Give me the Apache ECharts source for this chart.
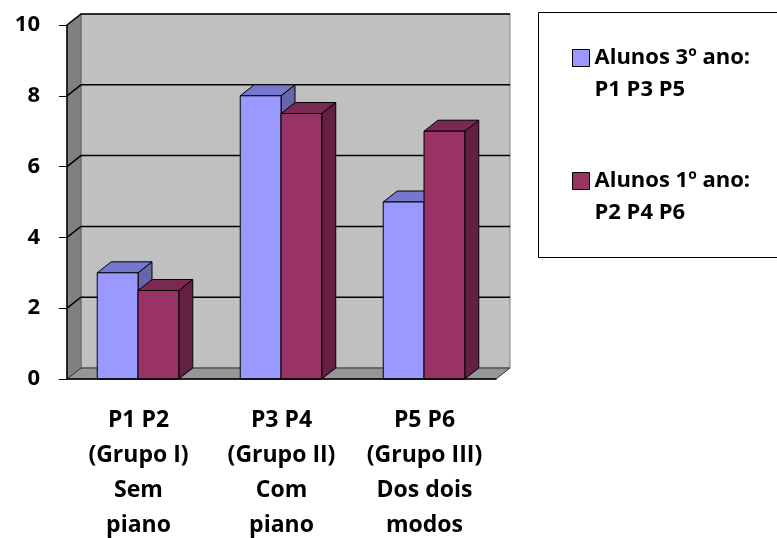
<!DOCTYPE html>
<html>
<head>
<meta charset="utf-8">
<script src="https://cdn.jsdelivr.net/npm/echarts@6/dist/echarts.min.js"></script>
<style>
  html, body { margin: 0; padding: 0; background: #fff; }
  #chart { width: 777px; height: 538px; }
</style>
</head>
<body>
<div id="chart"></div>
<script>
// Groups on the horizontal axis
const categories = [
  'P1 P2\n(Grupo I)\nSem\npiano',
  'P3 P4\n(Grupo II)\nCom\npiano',
  'P5 P6\n(Grupo III)\nDos dois\nmodos'
];
// Series names shown in the legend
const seriesNames = ['Alunos 3º ano:\nP1 P3 P5', 'Alunos 1º ano:\nP2 P4 P6'];
// Values per group
const alunos3 = [3, 8, 5];
const alunos1 = [2.5, 7.5, 7];
// Value axis ticks
const yTicks = [0, 2, 4, 6, 8, 10];

const FONT = 'Open Sans';
const DX = 14, DY = -11;   // depth offset of the 3D box
const palettes = [
  { front: '#9999FF', top: '#7777CC', side: '#6666A8' },
  { front: '#993366', top: '#7A2952', side: '#632040' }
];

// Back wall, side wall, floor and gridlines of the 3D plot box
function renderWalls(params, api) {
  const cs = params.coordSys;
  const x0 = cs.x, x1 = cs.x + cs.width;
  const yTop = cs.y, yBot = cs.y + cs.height;
  const children = [];
  children.push({
    type: 'rect',
    shape: { x: x0 + DX, y: yTop + DY, width: cs.width, height: cs.height },
    style: { fill: '#C0C0C0', stroke: '#808080', lineWidth: 1 }
  });
  children.push({
    type: 'polygon',
    shape: { points: [[x0, yTop], [x0 + DX, yTop + DY], [x0 + DX, yBot + DY], [x0, yBot]] },
    style: { fill: '#808080', stroke: '#666', lineWidth: 1 }
  });
  children.push({
    type: 'polygon',
    shape: { points: [[x0, yBot], [x1, yBot], [x1 + DX, yBot + DY], [x0 + DX, yBot + DY]] },
    style: { fill: '#969696', stroke: '#333', lineWidth: 1 }
  });
  yTicks.forEach(function (v) {
    if (v === 0) return;
    const y = api.coord([0, v])[1];
    children.push({
      type: 'polyline',
      shape: { points: [[x0, y], [x0 + DX, y + DY], [x1 + DX, y + DY]] },
      style: { stroke: '#000', lineWidth: 1.5, fill: null }
    });
  });
  return { type: 'group', children: children };
}

// One 3D bar: front face, top face and right side face
function barRenderer(idx) {
  const pal = palettes[idx];
  return function (params, api) {
    const ci = api.value(0), v = api.value(1);
    const band = api.size([1, 0])[0];
    const w = band * 0.285;
    const base = api.coord([ci, 0]);
    const top = api.coord([ci, v]);
    const xl = base[0] - 0.5 - w + idx * w;
    const xr = xl + w;
    const yt = top[1], yb = base[1];
    const line = { stroke: '#000', lineWidth: 1 };
    return {
      type: 'group',
      children: [
        { type: 'polygon',
          shape: { points: [[xr, yt], [xr + DX, yt + DY], [xr + DX, yb + DY], [xr, yb]] },
          style: Object.assign({ fill: pal.side }, line) },
        { type: 'polygon',
          shape: { points: [[xl, yt], [xr, yt], [xr + DX, yt + DY], [xl + DX, yt + DY]] },
          style: Object.assign({ fill: pal.top }, line) },
        { type: 'rect',
          shape: { x: xl, y: yt, width: w, height: yb - yt },
          style: Object.assign({ fill: pal.front }, line) }
      ]
    };
  };
}

const chart = echarts.init(document.getElementById('chart'), null, { renderer: 'canvas' });

chart.setOption({
  animation: false,
  backgroundColor: '#fff',
  grid: { left: 67, right: 281, top: 25, bottom: 159, outerBoundsMode: 'none', containLabel: false },
  xAxis: {
    type: 'category',
    data: categories,
    z: 10,
    axisLine: { lineStyle: { color: '#000', width: 1.5 } },
    axisTick: { length: 8, lineStyle: { color: '#000', width: 1 } },
    axisLabel: {
      fontFamily: FONT, fontWeight: 'bold', fontSize: 23, color: '#000',
      lineHeight: 35, margin: 24, interval: 0
    },
    splitLine: { show: false }
  },
  yAxis: {
    type: 'value',
    min: 0, max: 10, interval: 2,
    z: 10,
    axisLine: { show: true, lineStyle: { color: '#000', width: 1.5 } },
    axisTick: { show: true, length: 8, lineStyle: { color: '#000', width: 1 } },
    axisLabel: {
      fontFamily: FONT, fontWeight: 'bold', fontSize: 22, color: '#000', margin: 27
    },
    splitLine: { show: false }
  },
  legend: {
    orient: 'vertical',
    left: 572,
    top: 10,
    padding: 0,
    itemWidth: 17,
    itemHeight: 17,
    itemGap: 27,
    selectedMode: false,
    // a blank first line keeps the marker level with the first text line
    formatter: function (name) { return ' \n' + name; },
    textStyle: {
      fontFamily: FONT, fontWeight: 'bold', fontSize: 22, color: '#000',
      lineHeight: 32
    },
    data: seriesNames.map(function (n, i) {
      return { name: n, icon: 'rect',
        itemStyle: { color: palettes[i].front, borderColor: '#000', borderWidth: 1 } };
    })
  },
  graphic: [{
    type: 'rect',
    shape: { x: 538.5, y: 12.5, width: 260, height: 245 },
    style: { fill: 'none', stroke: '#000', lineWidth: 1 }
  }],
  series: [
    {
      type: 'custom',
      name: 'walls',
      renderItem: renderWalls,
      data: [[0, 0]],
      z: 1,
      silent: true
    },
    {
      type: 'custom',
      name: seriesNames[0],
      renderItem: barRenderer(0),
      itemStyle: { color: palettes[0].front },
      data: alunos3.map(function (v, i) { return [i, v]; }),
      z: 3
    },
    {
      type: 'custom',
      name: seriesNames[1],
      renderItem: barRenderer(1),
      itemStyle: { color: palettes[1].front },
      data: alunos1.map(function (v, i) { return [i, v]; }),
      z: 4
    }
  ]
});
</script>
</body>
</html>
